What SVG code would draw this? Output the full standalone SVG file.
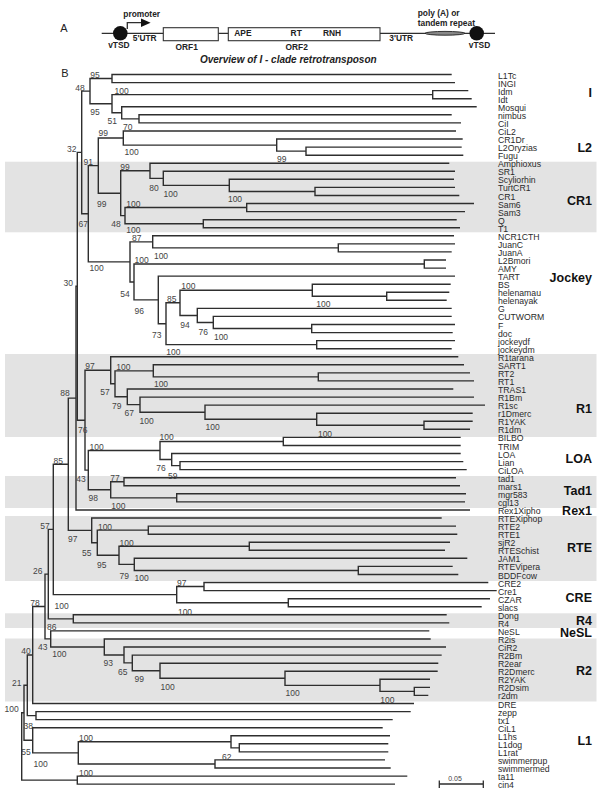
<svg xmlns="http://www.w3.org/2000/svg" width="604" height="801" viewBox="0 0 604 801">
<style>
.band{fill:#e3e3e3}
.t{stroke:#2e2e2e;stroke-width:1.4;fill:none}
.hl{stroke:#2e2e2e;stroke-width:1.3;fill:none}
text{font-family:"Liberation Sans",Arial,sans-serif}
.lf{font-size:8.7px;fill:#2b2b2b}
.bs{font-size:8.5px;fill:#444;text-anchor:middle}
.cl{font-size:12.5px;font-weight:bold;fill:#111;text-anchor:end}
.hd{font-size:8.4px;font-weight:bold;fill:#222}
.hm{font-size:8.4px;font-weight:bold;fill:#222;text-anchor:middle}
.pl{font-size:11px;fill:#222}
</style>
<rect width="604" height="801" fill="#fff"/>
<g id="bands">
<rect class="band" x="5" y="161.7" width="591.5" height="70.6"/>
<rect class="band" x="5" y="354" width="591.5" height="83"/>
<rect class="band" x="5" y="476" width="591.5" height="32"/>
<rect class="band" x="5" y="516" width="591.5" height="65"/>
<rect class="band" x="5" y="613.3" width="591.5" height="14.7"/>
<rect class="band" x="5" y="638.5" width="591.5" height="63"/>
</g>
<g id="panelA">
<text class="pl" x="64" y="32" text-anchor="middle">A</text>
<path class="hl" d="M101.7 33.3H495"/>
<circle cx="120.3" cy="33.3" r="7.3" fill="#111"/>
<circle cx="476.7" cy="33.3" r="7.3" fill="#111"/>
<path class="hl" d="M127.3 29V22.7H141.5"/>
<polygon points="141,18.4 150.6,22.7 141,27" fill="#111"/>
<rect x="163.3" y="27.7" width="55" height="13" fill="#fff" stroke="#333" stroke-width="1.1"/>
<rect x="228.3" y="27.7" width="151.7" height="13" fill="#fff" stroke="#333" stroke-width="1.1"/>
<ellipse cx="445" cy="33.3" rx="20" ry="1.9" fill="#888" stroke="#222" stroke-width="0.9"/>
<text class="hm" x="141.7" y="17">promoter</text>
<text class="hm" x="144.7" y="41">5'UTR</text>
<text class="hm" x="118.9" y="47.5">vTSD</text>
<text class="hm" x="186.7" y="49.5">ORF1</text>
<text class="hd" x="234.3" y="36">APE</text>
<text class="hm" x="296.2" y="36">RT</text>
<text class="hm" x="332" y="36">RNH</text>
<text class="hm" x="296.7" y="49.5">ORF2</text>
<text class="hm" x="401.2" y="41">3'UTR</text>
<text class="hm" x="479.5" y="47.5">vTSD</text>
<text class="hd" x="417.7" y="16">poly (A) or</text>
<text class="hd" x="417.7" y="25.5">tandem repeat</text>
<text x="288.3" y="62.5" text-anchor="middle" font-size="10" font-weight="bold" font-style="italic" fill="#222">Overview of I - clade retrotransposon</text>
</g>
<text class="pl" x="65" y="77" text-anchor="middle">B</text>
<g id="connectors" class="t">
<path d="M451.7 74.5H112V82.6H455"/>
<path d="M468.3 90.6H432.7V98.7H471.7"/>
<path d="M451.7 114.8H139V122.9H461"/>
<path d="M476.7 106.8H121.7V118.85H139"/>
<path d="M432.7 94.65H112V112.8H121.7"/>
<path d="M112 78.55H90V103.7H112"/>
<path d="M461.7 147.1H306V155.2H463.3"/>
<path d="M462.7 139H276.7V151.15H306"/>
<path d="M456 131H123.3V145.1H276.7"/>
<path d="M455 187.4H315V195.5H459.3"/>
<path d="M454 179.3H229.3V191.45H315"/>
<path d="M455 171.3H163.3V185.4H229.3"/>
<path d="M449.3 163.2H150V178.35H163.3"/>
<path d="M474 203.5H246.7V211.6H465"/>
<path d="M456.7 219.7H203.3V227.7H460"/>
<path d="M246.7 207.55H125V223.7H203.3"/>
<path d="M150 170.8H120.7V215.6H125"/>
<path d="M123.3 138.05H98.3V193.2H120.7"/>
<path d="M455 243.9H338.3V251.9H451.7"/>
<path d="M454 235.8H152.7V247.9H338.3"/>
<path d="M446 260H424.3V268.1H446"/>
<path d="M449.3 292.2H386.7V300.3H446.7"/>
<path d="M450.7 284.2H312.3V296.25H386.7"/>
<path d="M455 324.5H311.7V332.6H452.7"/>
<path d="M451.7 316.4H213.3V328.55H311.7"/>
<path d="M451.7 308.4H197.3V322.5H213.3"/>
<path d="M312.3 290.2H180V315.45H197.3"/>
<path d="M455 340.6H316.7V348.7H451.7"/>
<path d="M180 302.8H166V344.65H316.7"/>
<path d="M455 276.1H158.3V323.7H166"/>
<path d="M424.3 264.05H134V299.9H158.3"/>
<path d="M152.7 241.85H130V282H134"/>
<path d="M98.3 165.6H88.3V261.9H130"/>
<path d="M90 91.1H81.7V213.75H88.3"/>
<path d="M470 372.9H318.3V380.9H474"/>
<path d="M464 364.8H153.3V376.9H318.3"/>
<path d="M472.7 421.3H424V429.3H470"/>
<path d="M472.7 413.2H316.7V425.3H424"/>
<path d="M485 405.1H205V419.25H316.7"/>
<path d="M474 397.1H140V412.2H205"/>
<path d="M453.3 389H127.3V404.65H140"/>
<path d="M153.3 370.85H115V396.8H127.3"/>
<path d="M458.3 356.8H110.7V383.8H115"/>
<path d="M460.7 437.4H283.3V445.5H460.7"/>
<path d="M463.3 461.6H180V469.6H466.7"/>
<path d="M460.7 453.5H171.7V465.6H180"/>
<path d="M283.3 441.45H160V459.55H171.7"/>
<path d="M456 477.7H124V485.8H460"/>
<path d="M466 493.8H176.7V501.9H465"/>
<path d="M124 481.75H110.7V497.85H176.7"/>
<path d="M160 450.5H88.3V489.8H110.7"/>
<path d="M110.7 370.3H85V470.15H88.3"/>
<path d="M81.7 152.4H77.3V420.2H85"/>
<path d="M77.3 286.3H76V510H470"/>
<path d="M456 526.1H148.3V534.2H457.3"/>
<path d="M450 542.2H249.3V550.3H445"/>
<path d="M452.7 566.4H358.3V574.5H458.3"/>
<path d="M467.3 558.3H134.3V570.45H358.3"/>
<path d="M249.3 546.25H119V564.4H134.3"/>
<path d="M148.3 530.15H97.3V555.3H119"/>
<path d="M441.7 518H91.7V542.7H97.3"/>
<path d="M76 398.15H68.3V530.35H91.7"/>
<path d="M488.3 582.5H204V590.6H496.7"/>
<path d="M490 598.7H288.3V606.7H481.7"/>
<path d="M204 586.55H176.7V602.7H288.3"/>
<path d="M68.3 464.25H53.3V594.6H176.7"/>
<path d="M446.7 614.8H73.3V622.9H449.3"/>
<path d="M53.3 529.4H48.3V618.85H73.3"/>
<path d="M430 687.4H414.3V695.4H428.3"/>
<path d="M430 679.3H380V691.4H414.3"/>
<path d="M437.7 671.2H285V685.35H380"/>
<path d="M438.3 663.2H160V678.3H285"/>
<path d="M441.7 655.1H132.3V670.75H160"/>
<path d="M446 647H124V662.9H132.3"/>
<path d="M430.7 639H104.3V654.95H124"/>
<path d="M429.3 630.9H50.7V646.95H104.3"/>
<path d="M48.3 574.1H45V638.9H50.7"/>
<path d="M45 606.5H32.7V703.5H414"/>
<path d="M410.7 711.6H36V719.6H392.7"/>
<path d="M32.7 655H27.3V715.6H36"/>
<path d="M388.3 743.8H239.3V751.9H388.3"/>
<path d="M390 735.8H231V747.85H239.3"/>
<path d="M385 759.9H215V768H390.7"/>
<path d="M231 741.8H78.3V763.95H215"/>
<path d="M382.7 727.7H32.7V752.9H78.3"/>
<path d="M27.3 685.3H24V740.3H32.7"/>
<path d="M407.3 776.1H77.3V784.1H395"/>
<path d="M24 712.8H21.7V780.1H77.3"/>
</g>
<g id="support">
<text class="bs" x="95" y="78">95</text>
<text class="bs" x="80" y="91.3">48</text>
<text class="bs" x="121.7" y="93.7">100</text>
<text class="bs" x="95" y="115.3">95</text>
<text class="bs" x="112.3" y="123.7">51</text>
<text class="bs" x="127.7" y="130.3">70</text>
<text class="bs" x="103.3" y="136.3">99</text>
<text class="bs" x="71.7" y="152">32</text>
<text class="bs" x="131.7" y="155.3">100</text>
<text class="bs" x="281.7" y="162.3">99</text>
<text class="bs" x="88.3" y="164.7">91</text>
<text class="bs" x="125" y="169.7">99</text>
<text class="bs" x="154" y="191.3">80</text>
<text class="bs" x="170.7" y="197.3">100</text>
<text class="bs" x="235" y="202">100</text>
<text class="bs" x="101.7" y="207">99</text>
<text class="bs" x="133.3" y="207">100</text>
<text class="bs" x="83.3" y="227.3">67</text>
<text class="bs" x="116" y="227.3">48</text>
<text class="bs" x="133.3" y="233">100</text>
<text class="bs" x="136.7" y="241.3">87</text>
<text class="bs" x="161" y="259">100</text>
<text class="bs" x="141.7" y="263">100</text>
<text class="bs" x="96.7" y="271.3">100</text>
<text class="bs" x="68.3" y="285.7">30</text>
<text class="bs" x="188.3" y="288.7">100</text>
<text class="bs" x="125" y="297.3">54</text>
<text class="bs" x="171.7" y="302.3">85</text>
<text class="bs" x="323.3" y="307.3">100</text>
<text class="bs" x="139.3" y="314">96</text>
<text class="bs" x="185" y="328">94</text>
<text class="bs" x="203.3" y="334.7">76</text>
<text class="bs" x="156.7" y="338">73</text>
<text class="bs" x="221" y="339.7">100</text>
<text class="bs" x="173.3" y="355">100</text>
<text class="bs" x="90" y="368.7">97</text>
<text class="bs" x="123.3" y="370.3">100</text>
<text class="bs" x="161" y="387.3">100</text>
<text class="bs" x="105" y="394.7">57</text>
<text class="bs" x="65" y="396.3">88</text>
<text class="bs" x="116.7" y="409">79</text>
<text class="bs" x="129.3" y="416.3">67</text>
<text class="bs" x="146.7" y="424">100</text>
<text class="bs" x="212.7" y="429.7">100</text>
<text class="bs" x="82.7" y="433">76</text>
<text class="bs" x="325" y="437">100</text>
<text class="bs" x="166.7" y="440.3">100</text>
<text class="bs" x="96.7" y="449.7">100</text>
<text class="bs" x="58.3" y="464">85</text>
<text class="bs" x="161" y="471.3">76</text>
<text class="bs" x="172.7" y="478.7">59</text>
<text class="bs" x="81" y="482">43</text>
<text class="bs" x="115" y="480.7">77</text>
<text class="bs" x="93.3" y="500.7">98</text>
<text class="bs" x="118.3" y="509">100</text>
<text class="bs" x="45" y="529">57</text>
<text class="bs" x="105" y="529.7">100</text>
<text class="bs" x="72.7" y="542.3">97</text>
<text class="bs" x="126.7" y="545.7">100</text>
<text class="bs" x="86.7" y="556.3">55</text>
<text class="bs" x="101.7" y="568">95</text>
<text class="bs" x="37.7" y="574">26</text>
<text class="bs" x="124.3" y="579">79</text>
<text class="bs" x="141.7" y="580.7">100</text>
<text class="bs" x="181.7" y="586.3">97</text>
<text class="bs" x="35" y="606.3">78</text>
<text class="bs" x="61.7" y="608.7">100</text>
<text class="bs" x="185" y="615.3">100</text>
<text class="bs" x="51.7" y="629.7">86</text>
<text class="bs" x="42.7" y="649.7">43</text>
<text class="bs" x="26" y="653.7">40</text>
<text class="bs" x="59.3" y="657">100</text>
<text class="bs" x="108.3" y="665.7">93</text>
<text class="bs" x="122.7" y="674.7">65</text>
<text class="bs" x="139.3" y="682.3">99</text>
<text class="bs" x="16.7" y="685.7">21</text>
<text class="bs" x="167.7" y="690.3">100</text>
<text class="bs" x="292.7" y="696.3">100</text>
<text class="bs" x="387.3" y="703">100</text>
<text class="bs" x="11.7" y="712">100</text>
<text class="bs" x="28.3" y="728.7">38</text>
<text class="bs" x="86" y="741.3">100</text>
<text class="bs" x="26" y="754.7">55</text>
<text class="bs" x="226.7" y="760.3">62</text>
<text class="bs" x="40.7" y="767">100</text>
<text class="bs" x="86" y="775.7">100</text>
</g>
<g id="leaves" class="lf">
<g id="leaf-L1Tc"><text x="498" y="78.5">L1Tc</text></g>
<g id="leaf-INGI"><text x="498" y="86.6">INGI</text></g>
<g id="leaf-Idm"><text x="498" y="94.6">Idm</text></g>
<g id="leaf-Idt"><text x="498" y="102.7">Idt</text></g>
<g id="leaf-Mosqui"><text x="498" y="110.8">Mosqui</text></g>
<g id="leaf-nimbus"><text x="498" y="118.8">nimbus</text></g>
<g id="leaf-CiI"><text x="498" y="126.9">CiI</text></g>
<g id="leaf-CiL2"><text x="498" y="135">CiL2</text></g>
<g id="leaf-CR1Dr"><text x="498" y="143">CR1Dr</text></g>
<g id="leaf-L2Oryzias"><text x="498" y="151.1">L2Oryzias</text></g>
<g id="leaf-Fugu"><text x="498" y="159.2">Fugu</text></g>
<g id="leaf-Amphioxus"><text x="498" y="167.2">Amphioxus</text></g>
<g id="leaf-SR1"><text x="498" y="175.3">SR1</text></g>
<g id="leaf-Scyliorhin"><text x="498" y="183.3">Scyliorhin</text></g>
<g id="leaf-TurtCR1"><text x="498" y="191.4">TurtCR1</text></g>
<g id="leaf-CR1"><text x="498" y="199.5">CR1</text></g>
<g id="leaf-Sam6"><text x="498" y="207.5">Sam6</text></g>
<g id="leaf-Sam3"><text x="498" y="215.6">Sam3</text></g>
<g id="leaf-Q"><text x="498" y="223.7">Q</text></g>
<g id="leaf-T1"><text x="498" y="231.7">T1</text></g>
<g id="leaf-NCR1CTH"><text x="498" y="239.8">NCR1CTH</text></g>
<g id="leaf-JuanC"><text x="498" y="247.9">JuanC</text></g>
<g id="leaf-JuanA"><text x="498" y="255.9">JuanA</text></g>
<g id="leaf-L2Bmori"><text x="498" y="264">L2Bmori</text></g>
<g id="leaf-AMY"><text x="498" y="272.1">AMY</text></g>
<g id="leaf-TART"><text x="498" y="280.1">TART</text></g>
<g id="leaf-BS"><text x="498" y="288.2">BS</text></g>
<g id="leaf-helenamau"><text x="498" y="296.2">helenamau</text></g>
<g id="leaf-helenayak"><text x="498" y="304.3">helenayak</text></g>
<g id="leaf-G"><text x="498" y="312.4">G</text></g>
<g id="leaf-CUTWORM"><text x="498" y="320.4">CUTWORM</text></g>
<g id="leaf-F"><text x="498" y="328.5">F</text></g>
<g id="leaf-doc"><text x="498" y="336.6">doc</text></g>
<g id="leaf-jockeydf"><text x="498" y="344.6">jockeydf</text></g>
<g id="leaf-jockeydm"><text x="498" y="352.7">jockeydm</text></g>
<g id="leaf-R1tarana"><text x="498" y="360.8">R1tarana</text></g>
<g id="leaf-SART1"><text x="498" y="368.8">SART1</text></g>
<g id="leaf-RT2"><text x="498" y="376.9">RT2</text></g>
<g id="leaf-RT1"><text x="498" y="384.9">RT1</text></g>
<g id="leaf-TRAS1"><text x="498" y="393">TRAS1</text></g>
<g id="leaf-R1Bm"><text x="498" y="401.1">R1Bm</text></g>
<g id="leaf-R1sc"><text x="498" y="409.1">R1sc</text></g>
<g id="leaf-r1Dmerc"><text x="498" y="417.2">r1Dmerc</text></g>
<g id="leaf-R1YAK"><text x="498" y="425.3">R1YAK</text></g>
<g id="leaf-R1dm"><text x="498" y="433.3">R1dm</text></g>
<g id="leaf-BILBO"><text x="498" y="441.4">BILBO</text></g>
<g id="leaf-TRIM"><text x="498" y="449.5">TRIM</text></g>
<g id="leaf-LOA"><text x="498" y="457.5">LOA</text></g>
<g id="leaf-Lian"><text x="498" y="465.6">Lian</text></g>
<g id="leaf-CiLOA"><text x="498" y="473.6">CiLOA</text></g>
<g id="leaf-tad1"><text x="498" y="481.7">tad1</text></g>
<g id="leaf-mars1"><text x="498" y="489.8">mars1</text></g>
<g id="leaf-mgr583"><text x="498" y="497.8">mgr583</text></g>
<g id="leaf-cgl13"><text x="498" y="505.9">cgl13</text></g>
<g id="leaf-Rex1Xipho"><text x="498" y="514">Rex1Xipho</text></g>
<g id="leaf-RTEXiphop"><text x="498" y="522">RTEXiphop</text></g>
<g id="leaf-RTE2"><text x="498" y="530.1">RTE2</text></g>
<g id="leaf-RTE1"><text x="498" y="538.2">RTE1</text></g>
<g id="leaf-sjR2"><text x="498" y="546.2">sjR2</text></g>
<g id="leaf-RTESchist"><text x="498" y="554.3">RTESchist</text></g>
<g id="leaf-JAM1"><text x="498" y="562.3">JAM1</text></g>
<g id="leaf-RTEVipera"><text x="498" y="570.4">RTEVipera</text></g>
<g id="leaf-BDDFcow"><text x="498" y="578.5">BDDFcow</text></g>
<g id="leaf-CRE2"><text x="498" y="586.5">CRE2</text></g>
<g id="leaf-Cre1"><text x="498" y="594.6">Cre1</text></g>
<g id="leaf-CZAR"><text x="498" y="602.7">CZAR</text></g>
<g id="leaf-slacs"><text x="498" y="610.7">slacs</text></g>
<g id="leaf-Dong"><text x="498" y="618.8">Dong</text></g>
<g id="leaf-R4"><text x="498" y="626.9">R4</text></g>
<g id="leaf-NeSL"><text x="498" y="634.9">NeSL</text></g>
<g id="leaf-R2is"><text x="498" y="643">R2is</text></g>
<g id="leaf-CiR2"><text x="498" y="651">CiR2</text></g>
<g id="leaf-R2Bm"><text x="498" y="659.1">R2Bm</text></g>
<g id="leaf-R2ear"><text x="498" y="667.2">R2ear</text></g>
<g id="leaf-R2Dmerc"><text x="498" y="675.2">R2Dmerc</text></g>
<g id="leaf-R2YAK"><text x="498" y="683.3">R2YAK</text></g>
<g id="leaf-R2Dsim"><text x="498" y="691.4">R2Dsim</text></g>
<g id="leaf-r2dm"><text x="498" y="699.4">r2dm</text></g>
<g id="leaf-DRE"><text x="498" y="707.5">DRE</text></g>
<g id="leaf-zepp"><text x="498" y="715.6">zepp</text></g>
<g id="leaf-tx1"><text x="498" y="723.6">tx1</text></g>
<g id="leaf-CiL1"><text x="498" y="731.7">CiL1</text></g>
<g id="leaf-L1hs"><text x="498" y="739.8">L1hs</text></g>
<g id="leaf-L1dog"><text x="498" y="747.8">L1dog</text></g>
<g id="leaf-L1rat"><text x="498" y="755.9">L1rat</text></g>
<g id="leaf-swimmerpup"><text x="498" y="763.9">swimmerpup</text></g>
<g id="leaf-swimmermed"><text x="498" y="772">swimmermed</text></g>
<g id="leaf-ta11"><text x="498" y="780.1">ta11</text></g>
<g id="leaf-cin4"><text x="498" y="788.1">cin4</text></g>
</g>
<g id="clades" class="cl">
<g id="clade-I"><text x="592" y="96.5">I</text></g>
<g id="clade-L2"><text x="592" y="151.5">L2</text></g>
<g id="clade-CR1"><text x="592" y="205">CR1</text></g>
<g id="clade-Jockey"><text x="592" y="281.5">Jockey</text></g>
<g id="clade-R1"><text x="592" y="413">R1</text></g>
<g id="clade-LOA"><text x="592" y="463">LOA</text></g>
<g id="clade-Tad1"><text x="592" y="495">Tad1</text></g>
<g id="clade-Rex1"><text x="592" y="515">Rex1</text></g>
<g id="clade-RTE"><text x="592" y="552">RTE</text></g>
<g id="clade-CRE"><text x="592" y="602">CRE</text></g>
<g id="clade-R4"><text x="592" y="624.5">R4</text></g>
<g id="clade-NeSL"><text x="592" y="637">NeSL</text></g>
<g id="clade-R2"><text x="592" y="675">R2</text></g>
<g id="clade-L1"><text x="592" y="745">L1</text></g>
</g>
<g id="scalebar">
<path class="hl" d="M439.3 784H483.3M439.3 780.5V788M483.3 780.5V788"/>
<text x="455" y="781" font-size="7" fill="#444" text-anchor="middle">0.05</text>
</g>
</svg>
